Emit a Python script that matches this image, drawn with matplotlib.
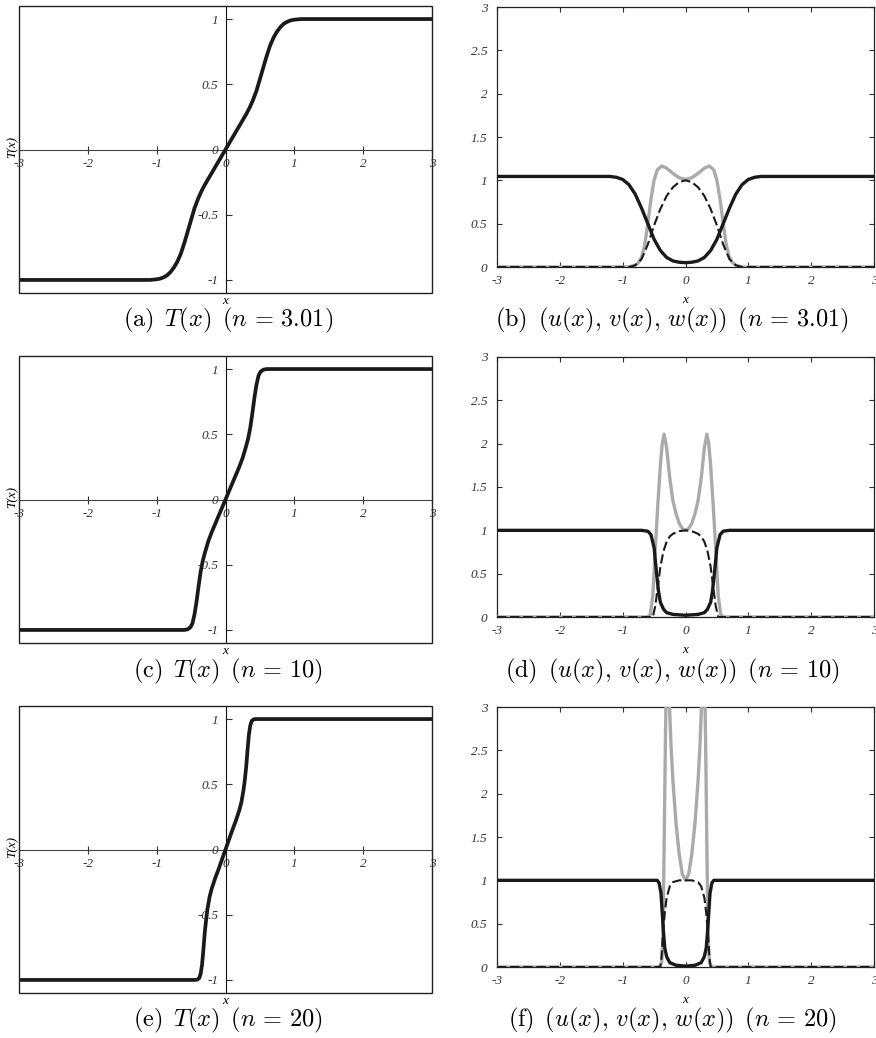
import matplotlib
matplotlib.use("Agg")
import matplotlib.pyplot as plt
from matplotlib.patches import Rectangle

plt.rcParams['mathtext.fontset'] = 'cm'
plt.rcParams['axes.unicode_minus'] = False
plt.rcParams['font.family'] = ['Liberation Serif', 'DejaVu Serif']

# ---- T(x) profiles ----
TX_A = [-3.0, -1.1, -1.0, -0.95, -0.9, -0.85, -0.8, -0.75, -0.7, -0.65, -0.6, -0.55, -0.5, -0.45,
        -0.4, -0.35, -0.3, -0.2, -0.1, 0.0,
        0.1, 0.2, 0.3, 0.35, 0.4, 0.45, 0.5, 0.55, 0.6, 0.65, 0.7, 0.75, 0.8, 0.85, 0.9, 0.95,
        1.0, 1.1, 3.0]
TY_A = [-1.0, -1.0, -0.995, -0.99, -0.98, -0.965, -0.94, -0.905, -0.86, -0.80, -0.72, -0.63, -0.54, -0.45,
        -0.38, -0.32, -0.27, -0.18, -0.09, 0.0,
        0.09, 0.18, 0.27, 0.32, 0.38, 0.45, 0.54, 0.63, 0.72, 0.80, 0.86, 0.905, 0.94, 0.965, 0.98, 0.99,
        0.995, 1.0, 1.0]

TX_C = [-3.0, -0.6, -0.55, -0.51, -0.48, -0.45, -0.42, -0.39, -0.36, -0.33, -0.3, -0.25, -0.2, -0.1, 0.0,
        0.1, 0.2, 0.25, 0.3, 0.33, 0.36, 0.39, 0.42, 0.45, 0.48, 0.51, 0.55, 0.6, 3.0]
TY_C = [-1.0, -1.0, -0.995, -0.98, -0.95, -0.88, -0.78, -0.66, -0.55, -0.47, -0.41, -0.32, -0.25, -0.125, 0.0,
        0.125, 0.25, 0.32, 0.41, 0.47, 0.55, 0.66, 0.78, 0.88, 0.95, 0.98, 0.995, 1.0, 1.0]

TX_E = [-3.0, -0.45, -0.41, -0.38, -0.36, -0.34, -0.32, -0.3, -0.28, -0.26, -0.23, -0.2, -0.15, -0.1, 0.0,
        0.1, 0.15, 0.2, 0.23, 0.26, 0.28, 0.3, 0.32, 0.34, 0.36, 0.38, 0.41, 0.45, 3.0]
TY_E = [-1.0, -1.0, -0.998, -0.985, -0.95, -0.88, -0.76, -0.63, -0.53, -0.45, -0.36, -0.30, -0.22, -0.15, 0.0,
        0.15, 0.22, 0.30, 0.36, 0.45, 0.53, 0.63, 0.76, 0.88, 0.95, 0.985, 0.998, 1.0, 1.0]

# ---- (u, v, w) profiles, n = 3.01 ----
UX_B = [-3.0, -1.2, -1.1, -1.0, -0.9, -0.8, -0.7, -0.6, -0.5, -0.4, -0.3, -0.2, -0.1, 0.0,
        0.1, 0.2, 0.3, 0.4, 0.5, 0.6, 0.7, 0.8, 0.9, 1.0, 1.1, 1.2, 3.0]
UY_B = [1.045, 1.045, 1.035, 1.01, 0.95, 0.84, 0.68, 0.5, 0.32, 0.19, 0.11, 0.07, 0.055, 0.05,
        0.055, 0.07, 0.11, 0.19, 0.32, 0.5, 0.68, 0.84, 0.95, 1.01, 1.035, 1.045, 1.045]
VX_B = [-3.0, -0.9, -0.8, -0.75, -0.7, -0.65, -0.6, -0.55, -0.5, -0.45, -0.38, -0.3, -0.2, -0.1, 0.0,
        0.1, 0.2, 0.3, 0.38, 0.45, 0.5, 0.55, 0.6, 0.65, 0.7, 0.75, 0.8, 0.9, 3.0]
VY_B = [0.0, 0.0, 0.02, 0.05, 0.11, 0.25, 0.5, 0.78, 1.0, 1.12, 1.165, 1.14, 1.08, 1.03, 1.01,
        1.03, 1.08, 1.14, 1.165, 1.12, 1.0, 0.78, 0.5, 0.25, 0.11, 0.05, 0.02, 0.0, 0.0]
WX_B = [-3.0, -0.9, -0.8, -0.7, -0.6, -0.5, -0.4, -0.3, -0.2, -0.1, 0.0,
        0.1, 0.2, 0.3, 0.4, 0.5, 0.6, 0.7, 0.8, 0.9, 3.0]
WY_B = [0.0, 0.0, 0.02, 0.09, 0.26, 0.48, 0.67, 0.82, 0.92, 0.98, 1.0,
        0.98, 0.92, 0.82, 0.67, 0.48, 0.26, 0.09, 0.02, 0.0, 0.0]

# ---- n = 10 ----
UX_D = [-3.0, -0.7, -0.6, -0.55, -0.5, -0.46, -0.43, -0.4, -0.35, -0.3, -0.2, 0.0,
        0.2, 0.3, 0.35, 0.4, 0.43, 0.46, 0.5, 0.55, 0.6, 0.7, 3.0]
UY_D = [1.0, 1.0, 0.99, 0.95, 0.8, 0.5, 0.3, 0.17, 0.09, 0.05, 0.03, 0.02,
        0.03, 0.05, 0.09, 0.17, 0.3, 0.5, 0.8, 0.95, 0.99, 1.0, 1.0]
VX_D = [-3.0, -0.6, -0.56, -0.52, -0.48, -0.44, -0.4, -0.37, -0.34, -0.3, -0.25, -0.2, -0.15, -0.1, -0.05, 0.0,
        0.05, 0.1, 0.15, 0.2, 0.25, 0.3, 0.34, 0.37, 0.4, 0.44, 0.48, 0.52, 0.56, 0.6, 3.0]
VY_D = [0.0, 0.0, 0.03, 0.25, 0.8, 1.3, 1.75, 2.0, 2.11, 1.95, 1.6, 1.34, 1.19, 1.08, 1.02, 1.0,
        1.02, 1.08, 1.19, 1.34, 1.6, 1.95, 2.11, 2.0, 1.75, 1.3, 0.8, 0.25, 0.03, 0.0, 0.0]
WX_D = [-3.0, -0.52, -0.48, -0.44, -0.4, -0.35, -0.3, -0.25, -0.2, -0.1, 0.0,
        0.1, 0.2, 0.25, 0.3, 0.35, 0.4, 0.44, 0.48, 0.52, 3.0]
WY_D = [0.0, 0.0, 0.13, 0.35, 0.58, 0.76, 0.87, 0.93, 0.96, 0.99, 1.0,
        0.99, 0.96, 0.93, 0.87, 0.76, 0.58, 0.35, 0.13, 0.0, 0.0]

# ---- n = 20 ----
UX_F = [-3.0, -0.45, -0.42, -0.39, -0.37, -0.35, -0.33, -0.3, -0.25, -0.15, 0.0,
        0.15, 0.25, 0.3, 0.33, 0.35, 0.37, 0.39, 0.42, 0.45, 3.0]
UY_F = [1.0, 1.0, 0.97, 0.85, 0.62, 0.4, 0.22, 0.12, 0.05, 0.02, 0.01,
        0.02, 0.05, 0.12, 0.22, 0.4, 0.62, 0.85, 0.97, 1.0, 1.0]
VX_F = [-3.0, -0.42, -0.38, -0.36, -0.34, -0.32, -0.29, -0.26, -0.23, -0.2, -0.15, -0.1, -0.05, 0.0,
        0.05, 0.1, 0.15, 0.2, 0.23, 0.26, 0.29, 0.32, 0.34, 0.36, 0.38, 0.42, 3.0]
VY_F = [0.0, 0.0, 0.05, 0.3, 1.4, 2.6, 4.0, 3.1, 2.55, 2.15, 1.65, 1.3, 1.07, 1.0,
        1.07, 1.3, 1.65, 2.15, 2.55, 3.1, 4.0, 2.6, 1.4, 0.3, 0.05, 0.0, 0.0]
WX_F = [-3.0, -0.4, -0.38, -0.36, -0.33, -0.3, -0.25, -0.2, -0.1, 0.0,
        0.1, 0.2, 0.25, 0.3, 0.33, 0.36, 0.38, 0.4, 3.0]
WY_F = [0.0, 0.0, 0.12, 0.38, 0.62, 0.8, 0.93, 0.98, 1.0, 1.0,
        1.0, 0.98, 0.93, 0.8, 0.62, 0.38, 0.12, 0.0, 0.0]

X_TICKS = [-3, -2, -1, 0, 1, 2, 3]
T_TICKS = [-1, -0.5, 0, 0.5, 1]
T_TICK_LABELS = ['-1', '-0.5', '0', '0.5', '1']
UVW_TICKS = [0, 0.5, 1, 1.5, 2, 2.5, 3]
UVW_TICK_LABELS = ['0', '0.5', '1', '1.5', '2', '2.5', '3']

CAPTIONS_T = [r'$\mathrm{(a)}\ \,T(x)\ \,(n\,=\,3.01)$', r'$\mathrm{(c)}\ \,T(x)\ \,(n\,=\,10)$',
              r'$\mathrm{(e)}\ \,T(x)\ \,(n\,=\,20)$']
CAPTIONS_UVW = [r'$\mathrm{(b)}\ \,(u(x),\,v(x),\,w(x))\ \,(n\,=\,3.01)$',
                r'$\mathrm{(d)}\ \,(u(x),\,v(x),\,w(x))\ \,(n\,=\,10)$',
                r'$\mathrm{(f)}\ \,(u(x),\,v(x),\,w(x))\ \,(n\,=\,20)$']

TICK_FONT = dict(family='Liberation Serif', style='italic', size=9.5)
INK = '#1a1a1a'
W, H = 876, 1038


def frac_box(left, top, right, bottom):
    return [left / W, 1 - bottom / H, (right - left) / W, (bottom - top) / H]


def profile_axes(fig, box, xs, ts):
    ax = fig.add_axes(box)
    ax.plot(xs, ts, color=INK, lw=2.7, solid_capstyle='butt', solid_joinstyle='round', zorder=4)
    ax.set_xlim(-3, 3)
    ax.set_ylim(-1.1, 1.1)
    # axes cross at the origin, with a plain frame around the plot
    ax.spines['left'].set_position(('data', 0))
    ax.spines['bottom'].set_position(('data', 0))
    ax.spines['top'].set_visible(False)
    ax.spines['right'].set_visible(False)
    ax.spines['left'].set_color('#111111')
    ax.spines['bottom'].set_color('#444444')
    ax.add_patch(Rectangle((0, 0), 1, 1, transform=ax.transAxes, fill=False,
                           lw=1.0, ec='#222222', clip_on=False, zorder=5))
    ax.set_xticks(X_TICKS)
    ax.set_xticklabels([str(t) for t in X_TICKS], **TICK_FONT)
    ax.set_yticks(T_TICKS)
    ax.set_yticklabels(T_TICK_LABELS, **TICK_FONT)
    ax.tick_params(axis='x', direction='inout', length=6, width=0.8, pad=3, colors='#333333')
    ax.tick_params(axis='y', direction='in', length=4, width=0.8, pad=5, colors='#333333')
    ax.text(-0.015, 0.51, 'T(x)', transform=ax.transAxes, rotation=90,
            ha='center', va='center', **TICK_FONT)
    ax.text(0.5, -0.027, 'x', transform=ax.transAxes, ha='center', va='center', **TICK_FONT)
    return ax


def fields_axes(fig, box, u, v, w):
    ax = fig.add_axes(box)
    ax.plot(v[0], v[1], color='#aaaaaa', lw=2.4, solid_joinstyle='round', zorder=3)
    ax.plot(u[0], u[1], color=INK, lw=2.4, solid_joinstyle='round', zorder=4)
    ax.plot(w[0], w[1], color=INK, lw=1.5, dashes=(4.5, 1.8), zorder=5)
    ax.set_xlim(-3, 3)
    ax.set_ylim(0, 3)
    for s in ax.spines.values():
        s.set_linewidth(0.9)
        s.set_color('#222222')
    ax.set_xticks(X_TICKS)
    ax.set_xticklabels([str(t) for t in X_TICKS], **TICK_FONT)
    ax.set_yticks(UVW_TICKS)
    ax.set_yticklabels(UVW_TICK_LABELS, **TICK_FONT)
    ax.tick_params(direction='in', length=3.5, width=0.8, top=True, right=True,
                   colors='#333333')
    ax.tick_params(axis='x', pad=6)
    ax.tick_params(axis='y', pad=7)
    ax.text(0.5, -0.127, 'x', transform=ax.transAxes, ha='center', va='center', **TICK_FONT)
    return ax


fig = plt.figure(figsize=(W / 100, H / 100), dpi=100)

t_curves = [(TX_A, TY_A), (TX_C, TY_C), (TX_E, TY_E)]
uvw_curves = [((UX_B, UY_B), (VX_B, VY_B), (WX_B, WY_B)),
              ((UX_D, UY_D), (VX_D, VY_D), (WX_D, WY_D)),
              ((UX_F, UY_F), (VX_F, VY_F), (WX_F, WY_F))]
row_tops = [6, 356, 706]
caption_y = [320, 671, 1020]

for i in range(3):
    top = row_tops[i]
    profile_axes(fig, frac_box(19, top, 432, top + 287), *t_curves[i])
    fields_axes(fig, frac_box(497, top + 1, 874, top + 261), *uvw_curves[i])
    fig.text(228 / W, 1 - caption_y[i] / H, CAPTIONS_T[i], ha='center', va='center', fontsize=17.5)
    fig.text(672 / W, 1 - caption_y[i] / H, CAPTIONS_UVW[i], ha='center', va='center', fontsize=17.5)

fig.savefig('out.png', dpi=100)
